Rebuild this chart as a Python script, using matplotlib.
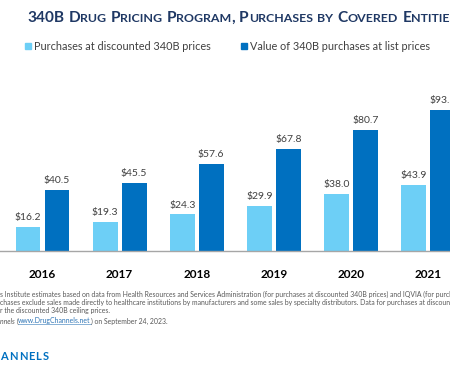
import matplotlib
matplotlib.use("Agg")
import matplotlib.pyplot as plt
import numpy as np

# ----------------------
# Data ($ billions)
# ----------------------
years = ["2016", "2017", "2018", "2019", "2020", "2021"]
discounted = [16.2, 19.3, 24.3, 29.9, 38.0, 43.9]
list_value = [40.5, 45.5, 57.6, 67.8, 80.7, 93.6]

legend_labels = ["Purchases at discounted 340B prices",
                 "Value of 340B purchases at list prices"]
title = "340B Drug Pricing Program, Purchases by Covered Entities"

light = "#6DCFF6"
dark = "#0070C0"
navy = "#1F3864"
font = "Lato"

W, H = 450, 376
fig = plt.figure(figsize=(W / 100, H / 100), dpi=100)
fig.patch.set_facecolor("white")

# plot area: baseline at y=251px, groups every ~77px, first group centre at 42.5px
ax = fig.add_axes([0, 125 / H, 1, 151 / H])
x = np.arange(len(years))
bw = 0.324
off = 0.188
b1 = ax.bar(x - off, discounted, bw, color=light, zorder=2)
b2 = ax.bar(x + off, list_value, bw, color=dark, zorder=2)
ax.set_xlim(-42.5 / 77.1, (W - 42.5) / 77.1)
ax.set_ylim(0, 100.3)

for bars, vals in ((b1, discounted), (b2, list_value)):
    for rect, v in zip(bars, vals):
        ax.text(rect.get_x() + rect.get_width() / 2, v + 3.2, f"${v:.1f}",
                ha="center", va="bottom", fontsize=7.5, color="#404040",
                family=font, clip_on=False)

for s in ("top", "right", "left"):
    ax.spines[s].set_visible(False)
ax.spines["bottom"].set_color("#A6A6A6")
ax.spines["bottom"].set_linewidth(1.0)
ax.set_yticks([])
ax.set_xticks(x)
ax.set_xticklabels(years, fontsize=8.5, fontweight="bold", family=font)
ax.tick_params(axis="x", length=0, pad=13)
ax.patch.set_alpha(0)

# ----------------------
# Small-caps title
# ----------------------
renderer = fig.canvas.get_renderer()


def small_caps(xpx, ypx, txt, big, small, color):
    cur = xpx
    i = 0
    while i < len(txt):
        is_low = txt[i].islower()
        j = i
        while j < len(txt) and txt[j].islower() == is_low and txt[j] != " ":
            j += 1
        if j == i:
            j = i + 1
        piece = txt[i:j]
        size = small if is_low else big
        t = fig.text(cur / W, 1 - ypx / H, piece.upper(), fontsize=size,
                     fontweight="bold", color=color, family=font,
                     ha="left", va="baseline")
        bb = t.get_window_extent(renderer)
        cur = bb.x1
        if piece == " ":
            cur = bb.x0 + size * 0.28 * 100 / 72
        i = j


small_caps(27, 22, title, 11.1, 8.9, navy)

# legend
for lx, lab, col in ((25, legend_labels[0], light), (241, legend_labels[1], dark)):
    fig.patches.append(plt.Rectangle((lx / W, 1 - 49 / H), 6 / W, 6 / H,
                                     transform=fig.transFigure, color=col))
    fig.text((lx + 9) / W, 1 - 46 / H, lab, fontsize=7.8, color="#404040",
             family=font, ha="left", va="center")

# footnotes
fs = 4.95
notes = [
    "s Institute estimates based on data from Health Resources and Services Administration "
    "(for purchases at discounted 340B prices) and IQVIA (for purchases at list prices).",
    "chases exclude sales made directly to healthcare institutions by manufacturers and some "
    "sales by specialty distributors. Data for purchases at discounted prices",
    "r the discounted 340B ceiling prices.",
]
for k, line in enumerate(notes):
    fig.text(0, 1 - (294 + 8 * k) / H, line, fontsize=fs, color="#595959",
             family=font, ha="left", va="center")

t1 = fig.text(0, 1 - 321 / H, "nnels ", fontsize=fs, color="#595959",
              family=font, style="italic", ha="left", va="center")
bx = t1.get_window_extent(renderer).x1
t2 = fig.text(bx / W, 1 - 321 / H, "(", fontsize=fs, color="#595959",
              family=font, ha="left", va="center")
bx = t2.get_window_extent(renderer).x1
t3 = fig.text(bx / W, 1 - 321 / H, "www.DrugChannels.net", fontsize=fs,
              color="#2E75B6", family=font, ha="left", va="center")
bb = t3.get_window_extent(renderer)
fig.lines.append(plt.Line2D([bb.x0 / W, bb.x1 / W], [(bb.y0 + 0.3) / H] * 2,
                            transform=fig.transFigure, color="#2E75B6", lw=0.4))
fig.text(bb.x1 / W, 1 - 321 / H, ") on September 24, 2023.", fontsize=fs,
         color="#595959", family=font, ha="left", va="center")

# logo fragment, letter-spaced
cur = 0.5
for ch in "ANNELS":
    t = fig.text(cur / W, 1 - 356 / H, ch, fontsize=8.0, fontweight="bold",
                 color="#0070C0", family=font, ha="left", va="center")
    cur = t.get_window_extent(renderer).x1 + 1.0

fig.savefig("out.png", dpi=100)
